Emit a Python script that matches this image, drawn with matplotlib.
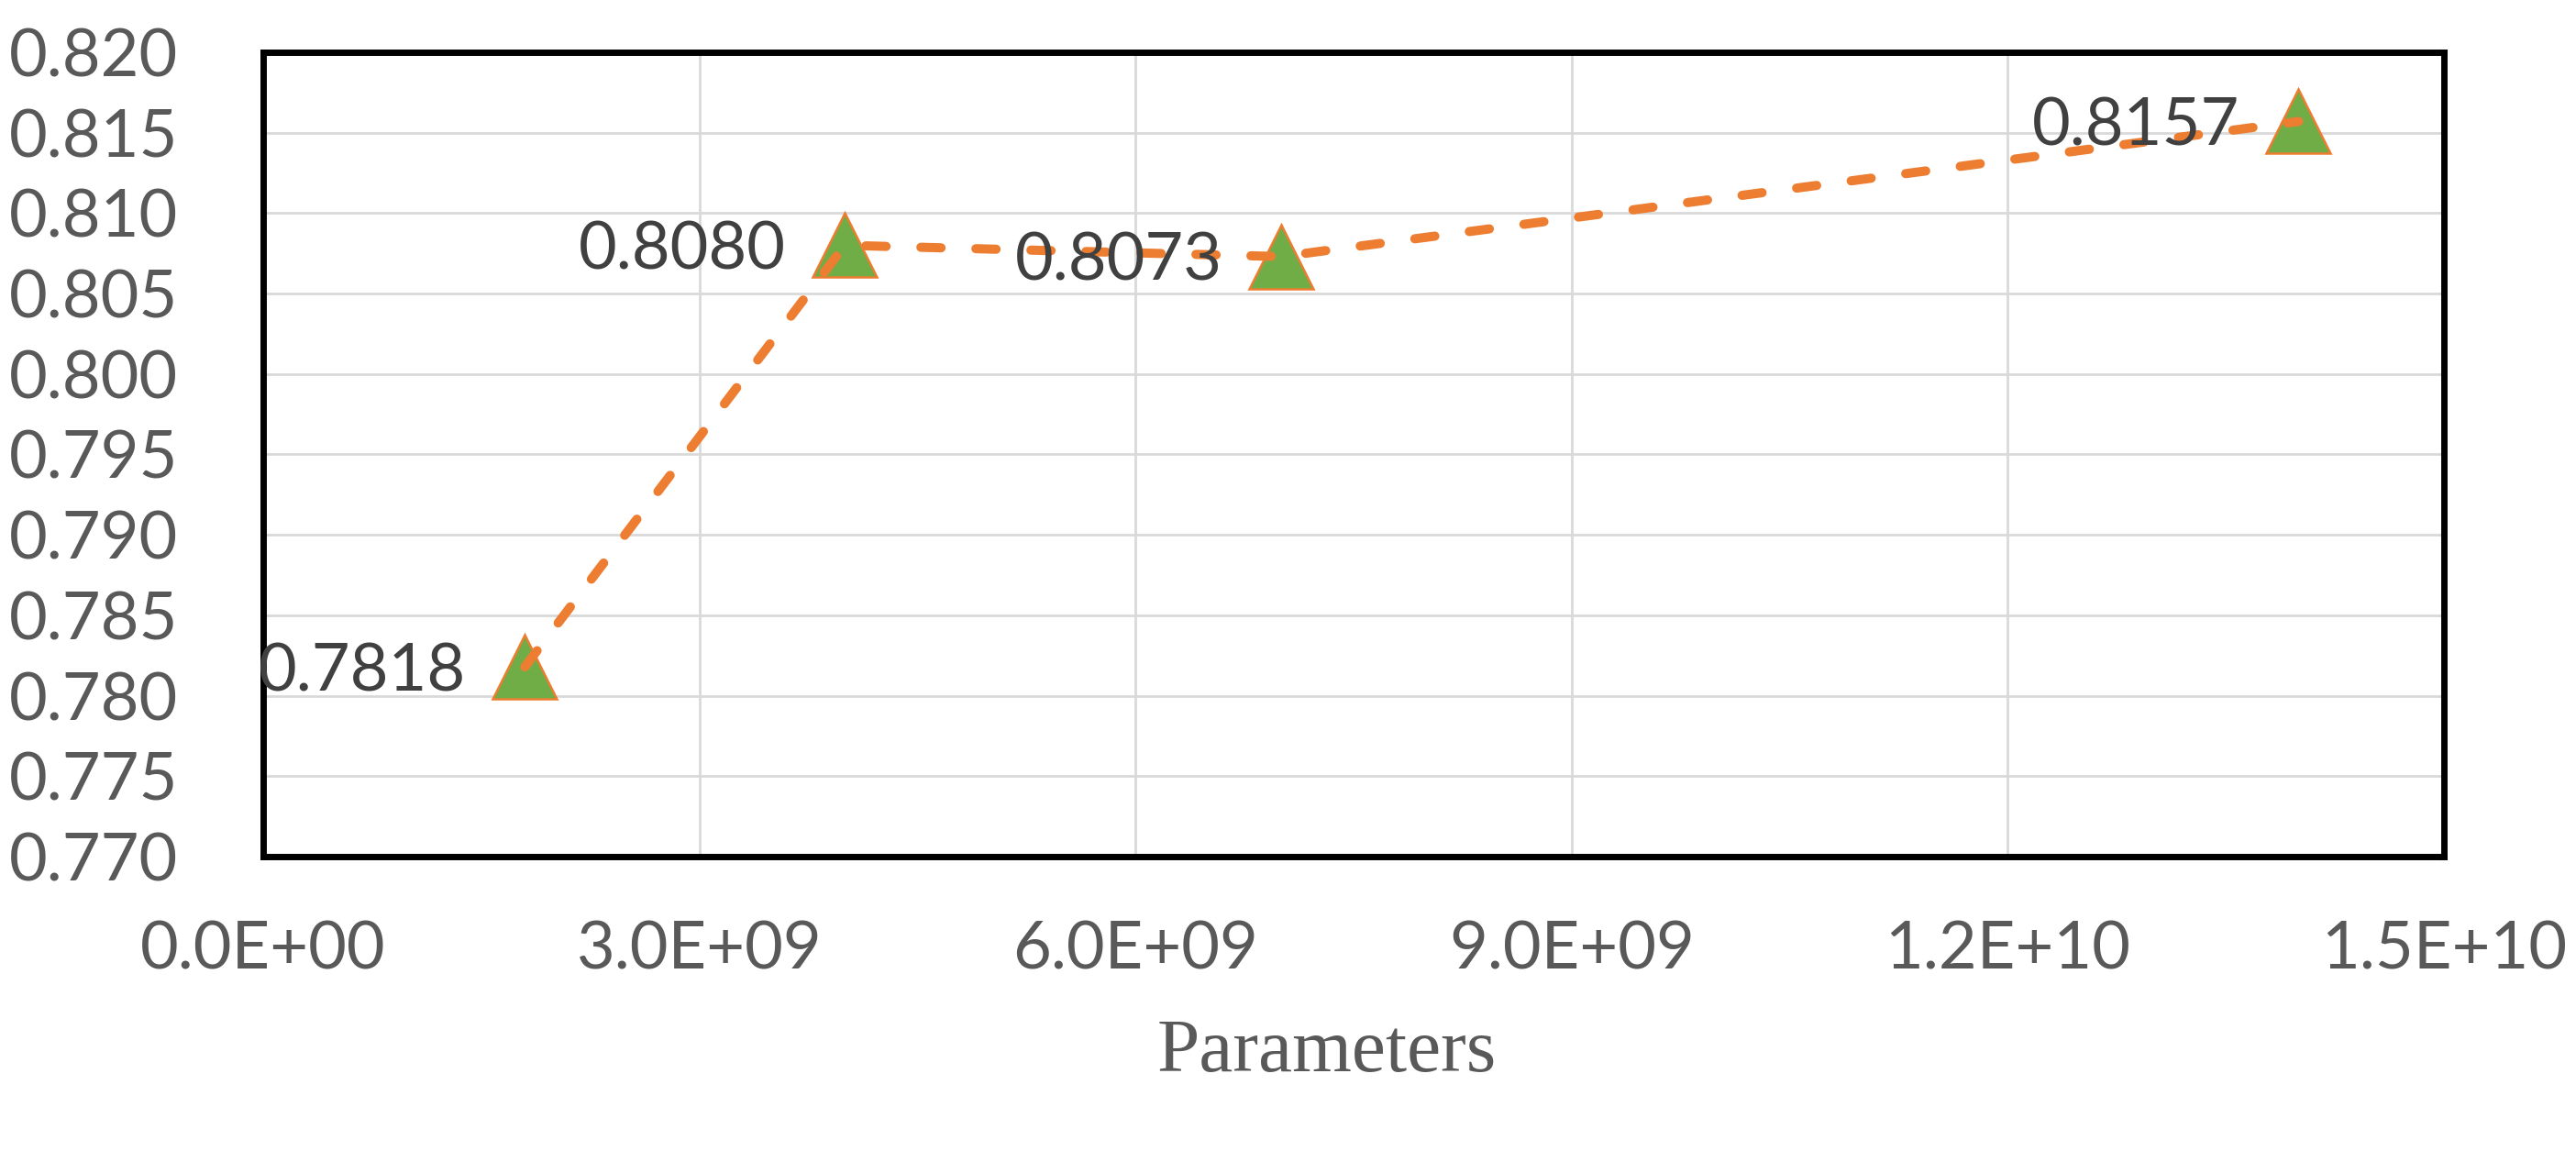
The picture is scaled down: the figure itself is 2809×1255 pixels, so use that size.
import numpy as np
import matplotlib
matplotlib.use('Agg')
import matplotlib.pyplot as plt
from matplotlib.ticker import FuncFormatter, MultipleLocator

# data
params = [1.8e9, 4.0e9, 7.0e9, 1.4e10]
scores = [0.7818, 0.8080, 0.8073, 0.8157]
labels = ['0.7818', '0.8080', '0.8073', '0.8157']

W, H = 2809, 1255
fig = plt.figure(figsize=(W / 100, H / 100), dpi=100)
ax = fig.add_axes([287 / W, 1 - 934 / H, (2665 - 287) / W, (934 - 57) / H])

orange = '#ED7D31'
green = '#70AD47'
grey = '#595959'

# markers under the dashed line, like the original
ax.plot(params, scores, linestyle='none', marker='^', markersize=51,
        markerfacecolor=green, markeredgecolor=orange, markeredgewidth=1.8,
        zorder=3, clip_on=False)
ax.plot(params, scores, color=orange, linewidth=7.2, dashes=(2.2, 3.8),
        dash_capstyle='round', zorder=4)

for x, y, s in zip(params, scores, labels):
    ax.annotate(s, (x, y), xytext=(-46, -18.7), textcoords='offset points',
                ha='right', va='baseline', fontsize=52, family='Lato',
                color='#404040', zorder=5)

ax.set_xlim(0, 1.5e10)
ax.set_ylim(0.770, 0.820)
ax.xaxis.set_major_locator(MultipleLocator(3e9))
ax.yaxis.set_major_locator(MultipleLocator(0.005))
ax.xaxis.set_major_formatter(FuncFormatter(lambda v, p: '{:.1E}'.format(v)))
ax.yaxis.set_major_formatter(FuncFormatter(lambda v, p: '{:.3f}'.format(v)))

ax.grid(True, color='#D9D9D9', linewidth=2)
ax.set_axisbelow(True)
for sp in ax.spines.values():
    sp.set_color('black')
    sp.set_linewidth(5)

ax.tick_params(axis='both', length=0, labelsize=52, labelcolor=grey)
ax.tick_params(axis='y', pad=67)
ax.tick_params(axis='x', pad=50)
for t in ax.get_xticklabels() + ax.get_yticklabels():
    t.set_family('Lato')

fig.text(1447 / W, 1 - 1168 / H, 'Parameters', ha='center', va='baseline',
         fontsize=60, family='Liberation Serif', color=grey)

plt.savefig('out.png', dpi=100)
